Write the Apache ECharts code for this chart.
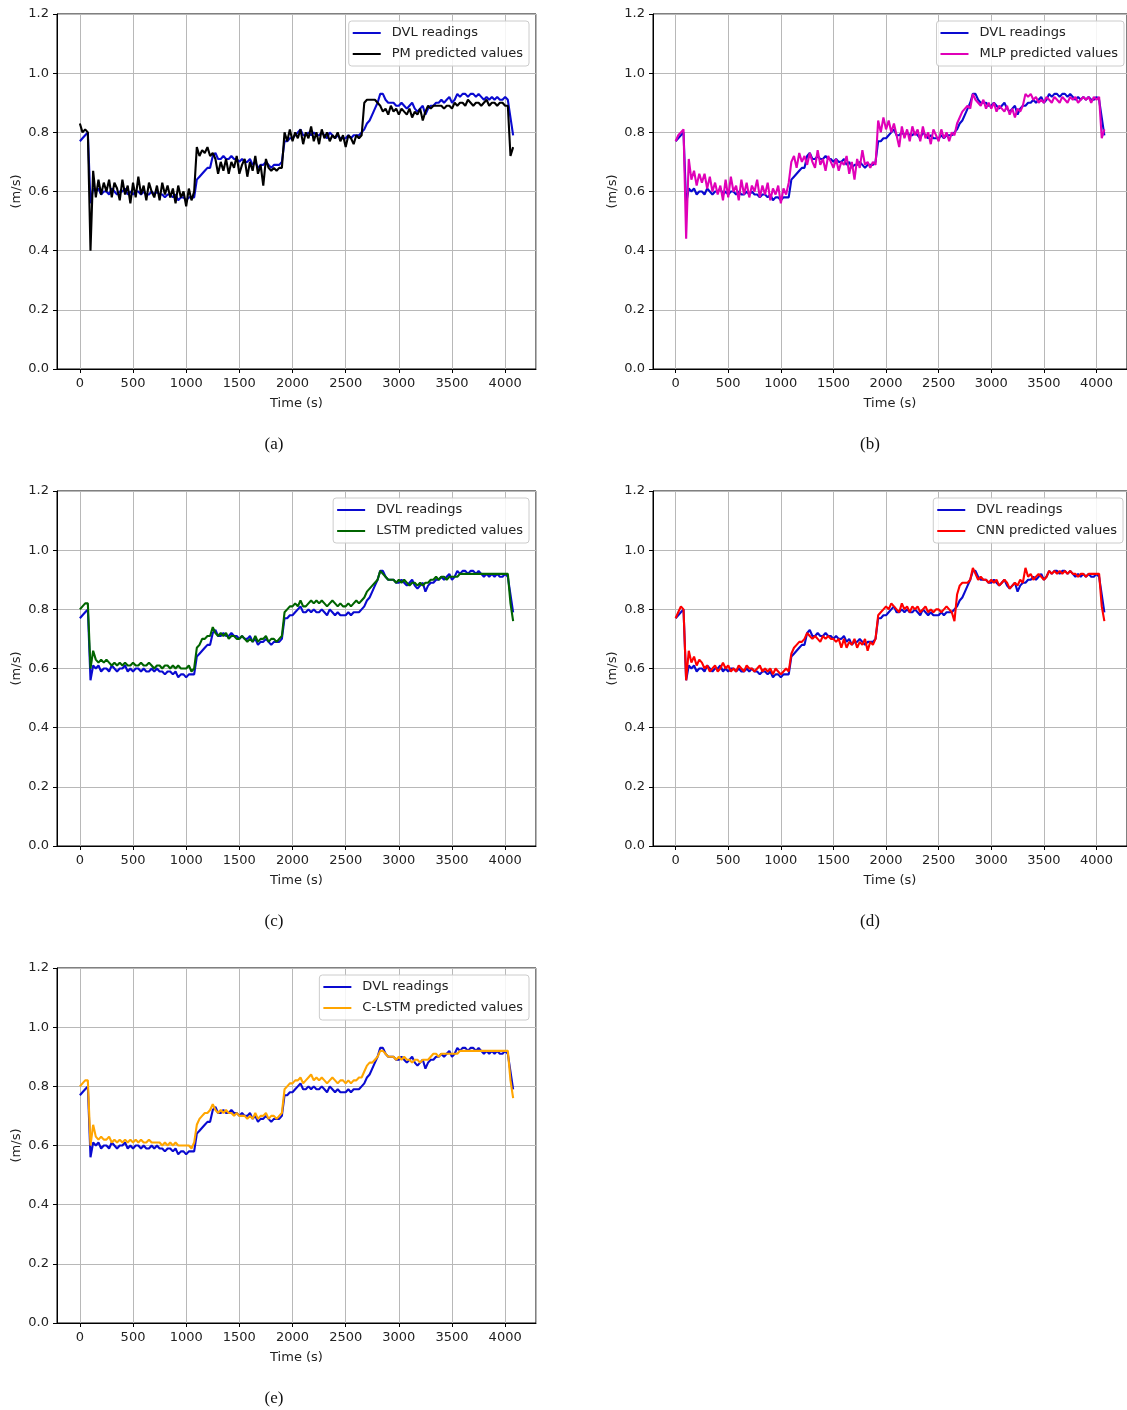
<!DOCTYPE html>
<html>
<head>
<meta charset="utf-8">
<script src="https://cdn.jsdelivr.net/npm/echarts@6/dist/echarts.min.js"></script>
<style>
  html, body { margin: 0; padding: 0; background: #ffffff; }
  #chart { width: 1127px; height: 1410px; }
</style>
</head>
<body>
<div id="chart"></div>
<script>
// Sampling interval of the velocity records (s)
const STEP = 25;

// DVL measured forward velocity (m/s)
const dvl = [
  0.77, 0.78, 0.79, 0.80, 0.56, 0.61, 0.60, 0.61, 0.59, 0.60,
  0.60, 0.59, 0.61, 0.60, 0.59, 0.60, 0.60, 0.61, 0.59, 0.60,
  0.59, 0.60, 0.60, 0.59, 0.60, 0.59, 0.59, 0.60, 0.59, 0.60,
  0.59, 0.59, 0.58, 0.59, 0.59, 0.58, 0.59, 0.57, 0.58, 0.58,
  0.57, 0.58, 0.58, 0.58, 0.64, 0.65, 0.66, 0.67, 0.68, 0.68,
  0.72, 0.73, 0.71, 0.71, 0.72, 0.71, 0.71, 0.72, 0.71, 0.71,
  0.70, 0.71, 0.70, 0.70, 0.71, 0.69, 0.70, 0.68, 0.69, 0.69,
  0.70, 0.69, 0.68, 0.69, 0.69, 0.69, 0.70, 0.77, 0.77, 0.78,
  0.78, 0.79, 0.80, 0.81, 0.79, 0.79, 0.80, 0.79, 0.80, 0.79,
  0.79, 0.80, 0.79, 0.78, 0.80, 0.79, 0.78, 0.79, 0.78, 0.78,
  0.78, 0.79, 0.78, 0.79, 0.79, 0.79, 0.80, 0.81, 0.83, 0.84,
  0.86, 0.88, 0.90, 0.93, 0.93, 0.91, 0.90, 0.90, 0.90, 0.89,
  0.89, 0.90, 0.89, 0.88, 0.89, 0.90, 0.88, 0.87, 0.88, 0.89,
  0.86, 0.88, 0.89, 0.89, 0.90, 0.90, 0.91, 0.90, 0.91, 0.92,
  0.90, 0.91, 0.93, 0.92, 0.93, 0.93, 0.92, 0.93, 0.93, 0.92,
  0.93, 0.92, 0.91, 0.92, 0.91, 0.92, 0.91, 0.92, 0.91, 0.91,
  0.92, 0.91, 0.85, 0.79
];

// PM model predictions (m/s)
const pm = [
  0.83, 0.80, 0.81, 0.80, 0.40, 0.67, 0.58, 0.64, 0.59, 0.63,
  0.60, 0.64, 0.58, 0.63, 0.61, 0.57, 0.64, 0.59, 0.62, 0.56,
  0.63, 0.58, 0.65, 0.59, 0.62, 0.57, 0.63, 0.60, 0.58, 0.62,
  0.57, 0.63, 0.59, 0.62, 0.58, 0.61, 0.56, 0.62, 0.58, 0.60,
  0.55, 0.61, 0.57, 0.60, 0.75, 0.72, 0.74, 0.73, 0.75, 0.72,
  0.73, 0.71, 0.66, 0.70, 0.67, 0.71, 0.66, 0.70, 0.68, 0.72,
  0.66, 0.69, 0.71, 0.65, 0.70, 0.67, 0.72, 0.66, 0.69, 0.62,
  0.71, 0.68, 0.67, 0.68, 0.67, 0.68, 0.68, 0.80, 0.77, 0.81,
  0.77, 0.80, 0.78, 0.81, 0.76, 0.80, 0.78, 0.82, 0.77, 0.80,
  0.76, 0.81, 0.78, 0.80, 0.77, 0.79, 0.78, 0.80, 0.77, 0.79,
  0.75, 0.79, 0.78, 0.76, 0.79, 0.78, 0.79, 0.90, 0.91, 0.91,
  0.91, 0.91, 0.90, 0.89, 0.87, 0.88, 0.86, 0.89, 0.87, 0.88,
  0.86, 0.88, 0.87, 0.86, 0.88, 0.85, 0.87, 0.86, 0.88, 0.84,
  0.87, 0.89, 0.88, 0.89, 0.89, 0.89, 0.89, 0.88, 0.89, 0.89,
  0.88, 0.90, 0.89, 0.90, 0.90, 0.89, 0.91, 0.90, 0.89, 0.90,
  0.90, 0.89, 0.90, 0.91, 0.89, 0.90, 0.90, 0.89, 0.90, 0.90,
  0.89, 0.89, 0.72, 0.75
];

// MLP model predictions (m/s)
const mlp = [
  0.77, 0.79, 0.80, 0.81, 0.44, 0.71, 0.64, 0.67, 0.62, 0.66,
  0.63, 0.66, 0.61, 0.65, 0.60, 0.63, 0.59, 0.62, 0.57, 0.64,
  0.58, 0.65, 0.60, 0.62, 0.57, 0.64, 0.59, 0.63, 0.58, 0.62,
  0.60, 0.64, 0.58, 0.62, 0.59, 0.63, 0.57, 0.61, 0.59, 0.62,
  0.56, 0.61, 0.59, 0.63, 0.70, 0.72, 0.68, 0.73, 0.70, 0.72,
  0.69, 0.73, 0.70, 0.68, 0.74, 0.69, 0.71, 0.67, 0.72, 0.70,
  0.68, 0.71, 0.67, 0.70, 0.69, 0.72, 0.66, 0.70, 0.64, 0.71,
  0.68, 0.74, 0.69, 0.70, 0.68, 0.70, 0.69, 0.84, 0.80, 0.85,
  0.81, 0.84, 0.80, 0.83, 0.79, 0.75, 0.82, 0.78, 0.81, 0.77,
  0.82, 0.79, 0.81, 0.77, 0.82, 0.78, 0.80, 0.76, 0.81, 0.79,
  0.77, 0.81, 0.78, 0.80, 0.77, 0.80, 0.79, 0.83, 0.85, 0.87,
  0.88, 0.89, 0.88, 0.93, 0.91, 0.90, 0.89, 0.91, 0.88, 0.90,
  0.88, 0.90, 0.87, 0.89, 0.88, 0.87, 0.89, 0.86, 0.88, 0.85,
  0.88, 0.87, 0.89, 0.93, 0.92, 0.93, 0.91, 0.92, 0.90, 0.91,
  0.90, 0.92, 0.91, 0.90, 0.92, 0.91, 0.90, 0.92, 0.91, 0.90,
  0.92, 0.91, 0.92, 0.90, 0.91, 0.92, 0.91, 0.92, 0.90, 0.92,
  0.91, 0.92, 0.78, 0.81
];

// LSTM model predictions (m/s)
const lstm = [
  0.80, 0.81, 0.82, 0.82, 0.60, 0.66, 0.63, 0.62, 0.63, 0.62,
  0.63, 0.62, 0.61, 0.62, 0.61, 0.62, 0.61, 0.62, 0.61, 0.61,
  0.62, 0.61, 0.61, 0.62, 0.61, 0.61, 0.62, 0.61, 0.60, 0.61,
  0.61, 0.60, 0.61, 0.61, 0.60, 0.61, 0.60, 0.61, 0.60, 0.60,
  0.60, 0.61, 0.59, 0.60, 0.67, 0.68, 0.70, 0.70, 0.71, 0.71,
  0.74, 0.72, 0.71, 0.72, 0.71, 0.72, 0.70, 0.71, 0.71, 0.70,
  0.70, 0.71, 0.70, 0.69, 0.70, 0.69, 0.71, 0.69, 0.70, 0.70,
  0.71, 0.69, 0.70, 0.70, 0.69, 0.70, 0.71, 0.79, 0.80, 0.81,
  0.81, 0.82, 0.81, 0.83, 0.81, 0.81, 0.82, 0.83, 0.82, 0.83,
  0.82, 0.83, 0.82, 0.81, 0.82, 0.83, 0.82, 0.81, 0.82, 0.81,
  0.81, 0.82, 0.81, 0.82, 0.83, 0.82, 0.83, 0.84, 0.86, 0.87,
  0.88, 0.89, 0.90, 0.93, 0.92, 0.91, 0.90, 0.90, 0.90, 0.89,
  0.90, 0.89, 0.90, 0.89, 0.88, 0.89, 0.89, 0.88, 0.89, 0.88,
  0.89, 0.89, 0.90, 0.90, 0.91, 0.90, 0.91, 0.91, 0.90, 0.91,
  0.91, 0.91, 0.91, 0.92, 0.92, 0.92, 0.92, 0.92, 0.92, 0.92,
  0.92, 0.92, 0.92, 0.92, 0.92, 0.92, 0.92, 0.92, 0.92, 0.92,
  0.92, 0.92, 0.82, 0.76
];

// CNN model predictions (m/s)
const cnn = [
  0.77, 0.79, 0.81, 0.80, 0.56, 0.66, 0.62, 0.64, 0.61, 0.63,
  0.62, 0.60, 0.61, 0.59, 0.60, 0.61, 0.59, 0.60, 0.62, 0.60,
  0.61, 0.59, 0.60, 0.59, 0.61, 0.60, 0.59, 0.61, 0.60, 0.60,
  0.59, 0.60, 0.61, 0.59, 0.60, 0.59, 0.60, 0.58, 0.60, 0.59,
  0.58, 0.59, 0.60, 0.59, 0.65, 0.67, 0.68, 0.69, 0.69, 0.70,
  0.72, 0.71, 0.70, 0.71, 0.70, 0.69, 0.71, 0.70, 0.71, 0.70,
  0.70, 0.69, 0.70, 0.67, 0.70, 0.67, 0.69, 0.68, 0.70, 0.67,
  0.69, 0.68, 0.70, 0.66, 0.69, 0.68, 0.70, 0.78, 0.79, 0.80,
  0.81, 0.80, 0.82, 0.81, 0.80, 0.79, 0.82, 0.80, 0.81, 0.79,
  0.81, 0.80, 0.81, 0.79, 0.80, 0.81, 0.79, 0.80, 0.79, 0.80,
  0.80, 0.79, 0.80, 0.81, 0.80, 0.79, 0.76, 0.85, 0.88, 0.89,
  0.89, 0.89, 0.90, 0.94, 0.92, 0.90, 0.91, 0.90, 0.90, 0.89,
  0.90, 0.89, 0.90, 0.88, 0.89, 0.90, 0.89, 0.87, 0.88, 0.89,
  0.88, 0.90, 0.89, 0.94, 0.91, 0.92, 0.90, 0.91, 0.92, 0.91,
  0.90, 0.91, 0.93, 0.92, 0.93, 0.92, 0.93, 0.92, 0.93, 0.92,
  0.93, 0.92, 0.92, 0.91, 0.92, 0.92, 0.91, 0.92, 0.92, 0.92,
  0.92, 0.92, 0.81, 0.76
];

// C-LSTM model predictions (m/s)
const clstm = [
  0.80, 0.81, 0.82, 0.82, 0.60, 0.67, 0.63, 0.62, 0.63, 0.62,
  0.62, 0.63, 0.61, 0.62, 0.61, 0.62, 0.61, 0.62, 0.61, 0.62,
  0.61, 0.62, 0.61, 0.62, 0.61, 0.61, 0.62, 0.61, 0.61, 0.61,
  0.61, 0.60, 0.61, 0.60, 0.61, 0.60, 0.61, 0.60, 0.60, 0.60,
  0.60, 0.60, 0.59, 0.61, 0.67, 0.69, 0.70, 0.71, 0.71, 0.72,
  0.74, 0.72, 0.71, 0.72, 0.71, 0.72, 0.71, 0.71, 0.70, 0.71,
  0.70, 0.70, 0.70, 0.69, 0.70, 0.69, 0.71, 0.69, 0.70, 0.70,
  0.71, 0.69, 0.70, 0.70, 0.69, 0.70, 0.71, 0.79, 0.80, 0.81,
  0.81, 0.82, 0.82, 0.83, 0.81, 0.82, 0.83, 0.84, 0.82, 0.83,
  0.82, 0.83, 0.82, 0.81, 0.82, 0.83, 0.82, 0.81, 0.82, 0.82,
  0.81, 0.82, 0.81, 0.82, 0.82, 0.83, 0.83, 0.85, 0.87, 0.88,
  0.88, 0.89, 0.90, 0.92, 0.92, 0.91, 0.90, 0.90, 0.90, 0.89,
  0.90, 0.89, 0.90, 0.89, 0.89, 0.88, 0.89, 0.89, 0.88, 0.89,
  0.89, 0.89, 0.90, 0.91, 0.91, 0.90, 0.91, 0.91, 0.91, 0.91,
  0.91, 0.91, 0.91, 0.92, 0.92, 0.92, 0.92, 0.92, 0.92, 0.92,
  0.92, 0.92, 0.92, 0.92, 0.92, 0.92, 0.92, 0.92, 0.92, 0.92,
  0.92, 0.92, 0.82, 0.76
];

// Legend labels of the model curves
const modelNames = [
  'PM predicted values',
  'MLP predicted values',
  'LSTM predicted values',
  'CNN predicted values',
  'C-LSTM predicted values'
];
const modelValues = [pm, mlp, lstm, cnn, clstm];
const panelTags = ['(a)', '(b)', '(c)', '(d)', '(e)'];

// Layout and styling of the five sub-plots
const layout = [
  { left: 57,  top: 14,  legendRight: 598, color: '#000000' },
  { left: 653, top: 14,  legendRight: 3,   color: '#e000b8' },
  { left: 57,  top: 491, legendRight: 598, color: '#006400' },
  { left: 653, top: 491, legendRight: 4,   color: '#ff0000' },
  { left: 57,  top: 968, legendRight: 598, color: '#ffa500' }
];
const PLOT_W = 479, PLOT_H = 355;
const DVL_COLOR = '#0a0ad0';
const FONT = 'DejaVu Sans';
const TXT = '#222222';
const LINE_W = 2.1;

const toPairs = arr => arr.map((v, i) => [i * STEP, v]);

const grids = [], xAxes = [], yAxes = [], series = [], legends = [], graphics = [];

layout.forEach((p, k) => {
  grids.push({
    left: p.left, top: p.top, width: PLOT_W, height: PLOT_H,
    show: true, borderColor: '#000000', borderWidth: 1, backgroundColor: 'transparent'
  });
  xAxes.push({
    type: 'value', gridIndex: k, min: -215, max: 4290,
    splitNumber: 9, minInterval: 500, maxInterval: 500,
    name: 'Time (s)', nameLocation: 'middle', nameGap: 28,
    nameTextStyle: { fontFamily: FONT, fontSize: 13, color: TXT },
    axisLine: { show: true, onZero: false, lineStyle: { color: '#000000', width: 1 } },
    axisTick: { show: true, length: 4, lineStyle: { color: '#000000' } },
    axisLabel: { fontFamily: FONT, fontSize: 13, color: TXT, margin: 8,
                 showMinLabel: false, showMaxLabel: false,
                 formatter: v => String(v) },
    splitLine: { show: true, lineStyle: { color: '#b8b8b8', width: 1 } }
  });
  yAxes.push({
    type: 'value', gridIndex: k, min: 0, max: 1.2, interval: 0.2,
    name: '(m/s)', nameLocation: 'middle', nameGap: 34, nameRotate: 90,
    nameTextStyle: { fontFamily: FONT, fontSize: 13, color: TXT },
    axisLine: { show: true, onZero: false, lineStyle: { color: '#000000', width: 1 } },
    axisTick: { show: true, length: 4, lineStyle: { color: '#000000' } },
    axisLabel: { fontFamily: FONT, fontSize: 13, color: TXT, margin: 8,
                 formatter: v => v.toFixed(1) },
    splitLine: { show: true, lineStyle: { color: '#b8b8b8', width: 1 } }
  });
  series.push({
    name: 'DVL readings', type: 'line', xAxisIndex: k, yAxisIndex: k,
    data: toPairs(dvl), showSymbol: false, symbol: 'none',
    lineStyle: { color: DVL_COLOR, width: LINE_W }, itemStyle: { color: DVL_COLOR },
    animation: false, z: 2
  });
  series.push({
    name: modelNames[k], type: 'line', xAxisIndex: k, yAxisIndex: k,
    data: toPairs(modelValues[k]), showSymbol: false, symbol: 'none',
    lineStyle: { color: p.color, width: LINE_W }, itemStyle: { color: p.color },
    animation: false, z: 3
  });
  legends.push({
    data: ['DVL readings', modelNames[k]],
    orient: 'vertical', right: p.legendRight, top: p.top + 7,
    icon: 'rect', itemWidth: 28, itemHeight: 2, itemGap: 5,
    padding: [4, 6, 4, 4],
    backgroundColor: 'rgba(255,255,255,0.85)',
    borderColor: '#cccccc', borderWidth: 1, borderRadius: 3,
    selectedMode: false,
    textStyle: { fontFamily: FONT, fontSize: 13, color: TXT, lineHeight: 16, padding: [0, 0, 0, 6] }
  });
  graphics.push({
    type: 'text',
    x: p.left + 217, y: p.top + 431,
    style: {
      text: panelTags[k], fill: '#111111',
      font: '17px "Liberation Serif"', align: 'center', verticalAlign: 'middle'
    }
  });
});

const chart = echarts.init(document.getElementById('chart'), null, { renderer: 'canvas' });
chart.setOption({
  animation: false,
  backgroundColor: '#ffffff',
  grid: grids,
  xAxis: xAxes,
  yAxis: yAxes,
  series: series,
  legend: legends,
  graphic: graphics
});
</script>
</body>
</html>
